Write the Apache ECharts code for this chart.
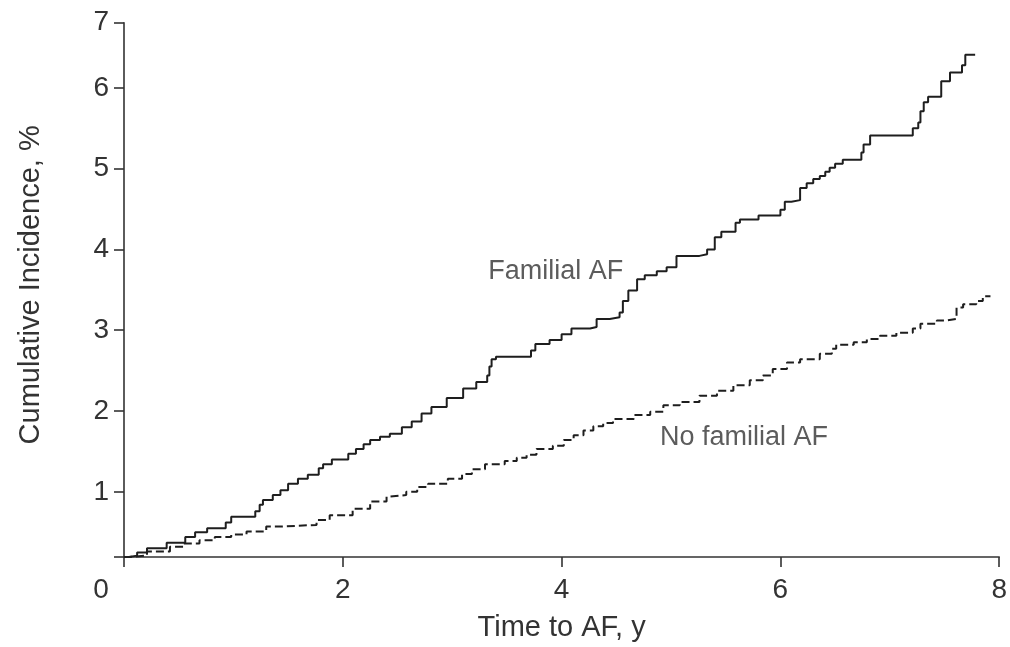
<!DOCTYPE html>
<html>
<head>
<meta charset="utf-8">
<script src="https://cdn.jsdelivr.net/npm/echarts@6/dist/echarts.min.js"></script>
<style>html,body{margin:0;padding:0;background:#fff}#c{width:1010px;height:647px}</style>
</head>
<body>
<div id="c"></div>
<script>
const xTicks = [0, 2, 4, 6, 8];
const yTickLabels = [1, 2, 3, 4, 5, 6, 7];
const yAxisMin = 0.193;
const yAxisMax = 6.806;

const familialAF = [[0,0.19],[0.03,0.21],[0.12,0.25],[0.21,0.30],[0.39,0.37],[0.56,0.44],[0.65,0.50],[0.76,0.55],[0.93,0.62],[0.98,0.69],[1.20,0.76],[1.24,0.84],[1.27,0.90],[1.36,0.96],[1.43,1.02],[1.50,1.10],[1.59,1.16],[1.68,1.21],[1.78,1.29],[1.82,1.34],[1.90,1.40],[2.05,1.47],[2.12,1.53],[2.19,1.59],[2.25,1.64],[2.34,1.68],[2.43,1.72],[2.54,1.80],[2.63,1.87],[2.72,1.97],[2.81,2.05],[2.95,2.16],[3.10,2.28],[3.22,2.36],[3.32,2.44],[3.34,2.55],[3.36,2.64],[3.40,2.67],[3.72,2.75],[3.76,2.83],[3.89,2.88],[4.00,2.95],[4.09,3.02],[4.26,3.04],[4.32,3.14],[4.44,3.16],[4.53,3.22],[4.56,3.36],[4.61,3.49],[4.69,3.63],[4.76,3.68],[4.87,3.73],[4.96,3.78],[5.05,3.92],[5.26,3.94],[5.33,4.00],[5.40,4.15],[5.46,4.22],[5.59,4.33],[5.63,4.37],[5.80,4.42],[6.00,4.49],[6.04,4.59],[6.10,4.61],[6.18,4.76],[6.24,4.82],[6.30,4.87],[6.36,4.91],[6.41,4.96],[6.45,5.01],[6.50,5.06],[6.57,5.11],[6.74,5.20],[6.76,5.30],[6.82,5.41],[7.21,5.50],[7.26,5.57],[7.28,5.71],[7.31,5.82],[7.35,5.89],[7.47,6.08],[7.55,6.19],[7.66,6.28],[7.69,6.41],[7.78,6.41]];

const noFamilialAF = [[0,0.19],[0.02,0.21],[0.21,0.26],[0.42,0.32],[0.54,0.36],[0.69,0.40],[0.83,0.44],[0.98,0.47],[1.12,0.51],[1.30,0.57],[1.44,0.59],[1.76,0.65],[1.88,0.71],[2.09,0.79],[2.25,0.88],[2.40,0.94],[2.43,0.96],[2.58,1.00],[2.68,1.06],[2.78,1.10],[2.96,1.16],[3.09,1.22],[3.18,1.28],[3.30,1.34],[3.48,1.38],[3.59,1.42],[3.68,1.46],[3.77,1.53],[3.92,1.57],[4.02,1.64],[4.11,1.70],[4.20,1.76],[4.29,1.81],[4.38,1.85],[4.47,1.90],[4.66,1.95],[4.81,1.99],[4.93,2.07],[5.08,2.11],[5.26,2.19],[5.42,2.25],[5.57,2.32],[5.72,2.38],[5.84,2.44],[5.93,2.52],[6.06,2.60],[6.18,2.64],[6.36,2.71],[6.47,2.77],[6.51,2.82],[6.67,2.85],[6.79,2.89],[6.91,2.93],[7.06,2.97],[7.21,3.02],[7.28,3.08],[7.43,3.12],[7.52,3.14],[7.61,3.28],[7.67,3.32],[7.79,3.36],[7.85,3.42],[7.92,3.42]];

const annotations = [[3.33, 3.72, 'Familial AF'], [4.90, 1.67, 'No familial AF']];

const FONT = '"Liberation Sans", Arial, Helvetica, sans-serif';
const TXT = '#333333';
const AX = '#333333';

const yTickValues = [yAxisMin].concat(yTickLabels.slice(0, -1)).concat([yAxisMax]);
const yLabelValues = yTickLabels.slice(0, -1).concat([yAxisMax]);

const chart = echarts.init(document.getElementById('c'), null, {renderer: 'canvas'});
chart.setOption({
  animation: false,
  backgroundColor: '#ffffff',
  grid: {left: 124, right: 10.7, top: 22.7, bottom: 88.3, containLabel: false},
  xAxis: {
    type: 'value', min: xTicks[0], max: xTicks[xTicks.length - 1], interval: 2,
    name: 'Time to AF, y', nameLocation: 'middle', nameGap: 56,
    nameTextStyle: {fontFamily: FONT, fontSize: 29, color: TXT},
    axisLine: {show: true, onZero: false, lineStyle: {color: AX, width: 1.6}},
    axisTick: {show: true, inside: false, length: 10, lineStyle: {color: AX, width: 1.6}},
    axisLabel: {
      margin: 19, fontFamily: FONT, fontSize: 28, color: TXT,
      formatter: v => v === 0 ? '{o|0}' : String(v),
      rich: {o: {fontFamily: FONT, fontSize: 28, color: TXT, padding: [0, 46, 0, 0]}}
    },
    splitLine: {show: false}
  },
  yAxis: {
    type: 'value', min: yAxisMin, max: yAxisMax,
    name: 'Cumulative Incidence, %', nameLocation: 'middle', nameGap: 79, nameRotate: 90,
    nameTextStyle: {fontFamily: FONT, fontSize: 29, color: TXT, padding: [0, 0, 0, 10]},
    axisLine: {show: true, onZero: false, lineStyle: {color: AX, width: 1.6}},
    axisTick: {show: true, inside: false, length: 10, customValues: yTickValues, lineStyle: {color: AX, width: 1.6}},
    axisLabel: {
      margin: 15, fontFamily: FONT, fontSize: 28, color: TXT,
      customValues: yLabelValues,
      formatter: v => String(Math.round(v))
    },
    splitLine: {show: false}
  },
  series: [
    {
      name: 'Familial AF', type: 'line', step: 'end', data: familialAF,
      showSymbol: false, symbol: 'none',
      lineStyle: {color: '#1e1e1e', width: 2}
    },
    {
      name: 'No familial AF', type: 'line', step: 'end', data: noFamilialAF,
      showSymbol: false, symbol: 'none',
      lineStyle: {color: '#1e1e1e', width: 2, type: [8, 4]}
    },
    {
      name: 'labels', type: 'scatter', data: annotations, symbolSize: 0,
      itemStyle: {color: 'rgba(0,0,0,0)'},
      label: {
        show: true, position: 'right', distance: 0,
        formatter: p => p.value[2],
        fontFamily: FONT, fontSize: 27, color: TXT
      },
      silent: true
    }
  ]
});
</script>
</body>
</html>
